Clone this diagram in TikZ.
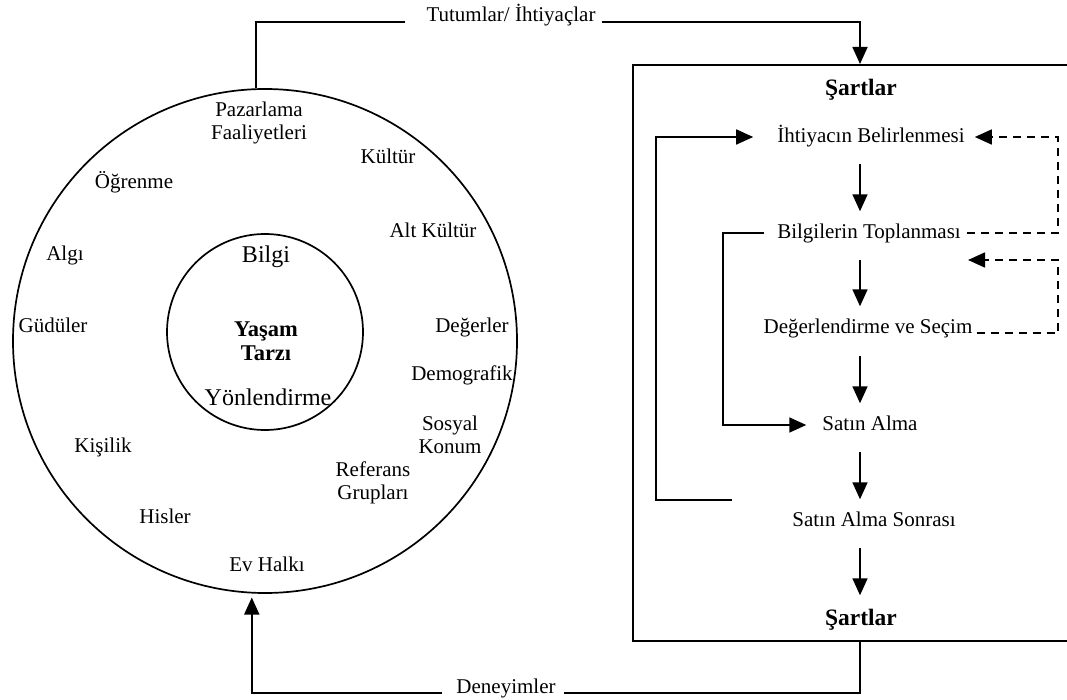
\documentclass[tikz,border=0pt]{standalone}
\usepackage{fontspec}
\setmainfont{Liberation Serif}
\usetikzlibrary{arrows.meta}
\begin{document}
\begin{tikzpicture}[x=1pt,y=-1pt,
  txt/.style={inner sep=2pt, font=\fontsize{21}{23}\selectfont, text height=15.75pt, text depth=5.25pt},
  big/.style={inner sep=2pt, font=\fontsize{24}{26}\selectfont},
  bold/.style={inner sep=2pt, font=\fontsize{23.5}{25}\selectfont\bfseries, text height=15.75pt, text depth=5.25pt},
  multi/.style={inner sep=2pt, align=center, font=\fontsize{21}{23}\selectfont},
  boldmulti/.style={inner sep=2pt, align=center, font=\fontsize{22.5}{24}\selectfont\bfseries},
  conn/.style={line width=1.7pt},
  dconn/.style={line width=1.7pt, dash pattern=on 8pt off 6pt},
  arr/.style={-{Triangle[length=17pt,width=15pt]}},
  ring/.style={circle, draw, line width=1.7pt, inner sep=0pt}
]
\useasboundingbox (0,0) rectangle (1067,700);

% left: life-style rings
\node[ring, minimum size=504pt] (outer) at (265,341) {};
\node[ring, minimum size=196pt] (inner) at (265,332) {};

\node[big] (bilgi) at (266,257) {Bilgi};
\node[boldmulti] (yasam) at (266,341) {Yaşam\\Tarzı};
\node[big] (yon) at (268,397) {Yönlendirme};

\node[multi] (paz) at (259,123) {Pazarlama\\Faaliyetleri};
\node[txt] (kultur) at (388,158) {Kültür};
\node[txt] (ogren) at (134,183) {Öğrenme};
\node[txt] (alt) at (433,232) {Alt Kültür};
\node[txt] (algi) at (65,255) {Algı};
\node[txt] (gudu) at (53,327) {Güdüler};
\node[txt] (deg) at (472,327) {Değerler};
\node[txt] (demo) at (462,375) {Demografik};
\node[multi] (sosyal) at (450,435) {Sosyal\\Konum};
\node[txt] (kisi) at (103,447) {Kişilik};
\node[multi] (ref) at (373,483) {Referans\\Grupları};
\node[txt] (his) at (165,518) {Hisler};
\node[txt] (ev) at (267,566) {Ev Halkı};

% right: decision process frame
\node[draw, line width=1.7pt, anchor=north west, minimum width=440pt, minimum height=576pt, inner sep=0pt] (frame) at (632,64) {};
\coordinate (axis) at (860,0);
\coordinate (rx) at (1058,0);
\coordinate (lx1) at (723,0);
\coordinate (lx2) at (656,0);
\coordinate (ps) at (732,500);
\coordinate (dtip) at (968,260);

\node[bold] (sart1) at (861,90) {Şartlar};
\node[txt] (ihti) at (871,137) {İhtiyacın Belirlenmesi};
\node[txt] (bilg) at (869,233) {Bilgilerin Toplanması};
\node[txt] (deger) at (868,328) {Değerlendirme ve Seçim};
\node[txt] (satin) at (870,425) {Satın Alma};
\node[txt] (sonra) at (874,521) {Satın Alma Sonrası};
\node[bold] (sart2) at (861,620) {Şartlar};

% main sequence
\draw[conn, arr, shorten <=14pt, shorten >=9pt] (ihti.south -| axis) -- (bilg.north -| axis);
\draw[conn, arr, shorten <=14pt, shorten >=9pt] (bilg.south -| axis) -- (deger.north -| axis);
\draw[conn, arr, shorten <=15pt, shorten >=9pt] (deger.south -| axis) -- (satin.north -| axis);
\draw[conn, arr, shorten <=14pt, shorten >=9pt] (satin.south -| axis) -- (sonra.north -| axis);
\draw[conn, arr, shorten <=14pt, shorten >=12pt] (sonra.south -| axis) -- (sart2.north -| axis);

% feedback loops
\draw[dconn, arr, shorten <=4pt, shorten >=8pt] (bilg.east) -- (bilg.east -| rx) |- (ihti.east);
\draw[dconn, arr, shorten <=2pt] (deger.base east) -- (deger.base east -| rx) |- (dtip);
\draw[conn, arr, shorten <=11pt, shorten >=14pt] (bilg.west) -- (bilg.west -| lx1) |- (satin.west);
\draw[conn, arr, shorten >=22pt] (ps) -- (ps -| lx2) |- (ihti.west);

% links between the two parts
\node[txt, anchor=base] (tut) at (511,22) {Tutumlar/ İhtiyaçlar};
\draw[conn, shorten >=19pt] (outer.92.7) |- (tut.base west);
\draw[conn, arr, shorten <=4pt] (tut.base east) -| (frame.north -| axis);

\node[txt, anchor=base] (den) at (506,693) {Deneyimler};
\draw[conn, shorten >=6pt] (frame.south -| axis) |- (den.base east);
\draw[conn, arr, shorten <=12pt, shorten >=4pt] (den.base west) -| (outer.267.3);
\end{tikzpicture}
\end{document}
